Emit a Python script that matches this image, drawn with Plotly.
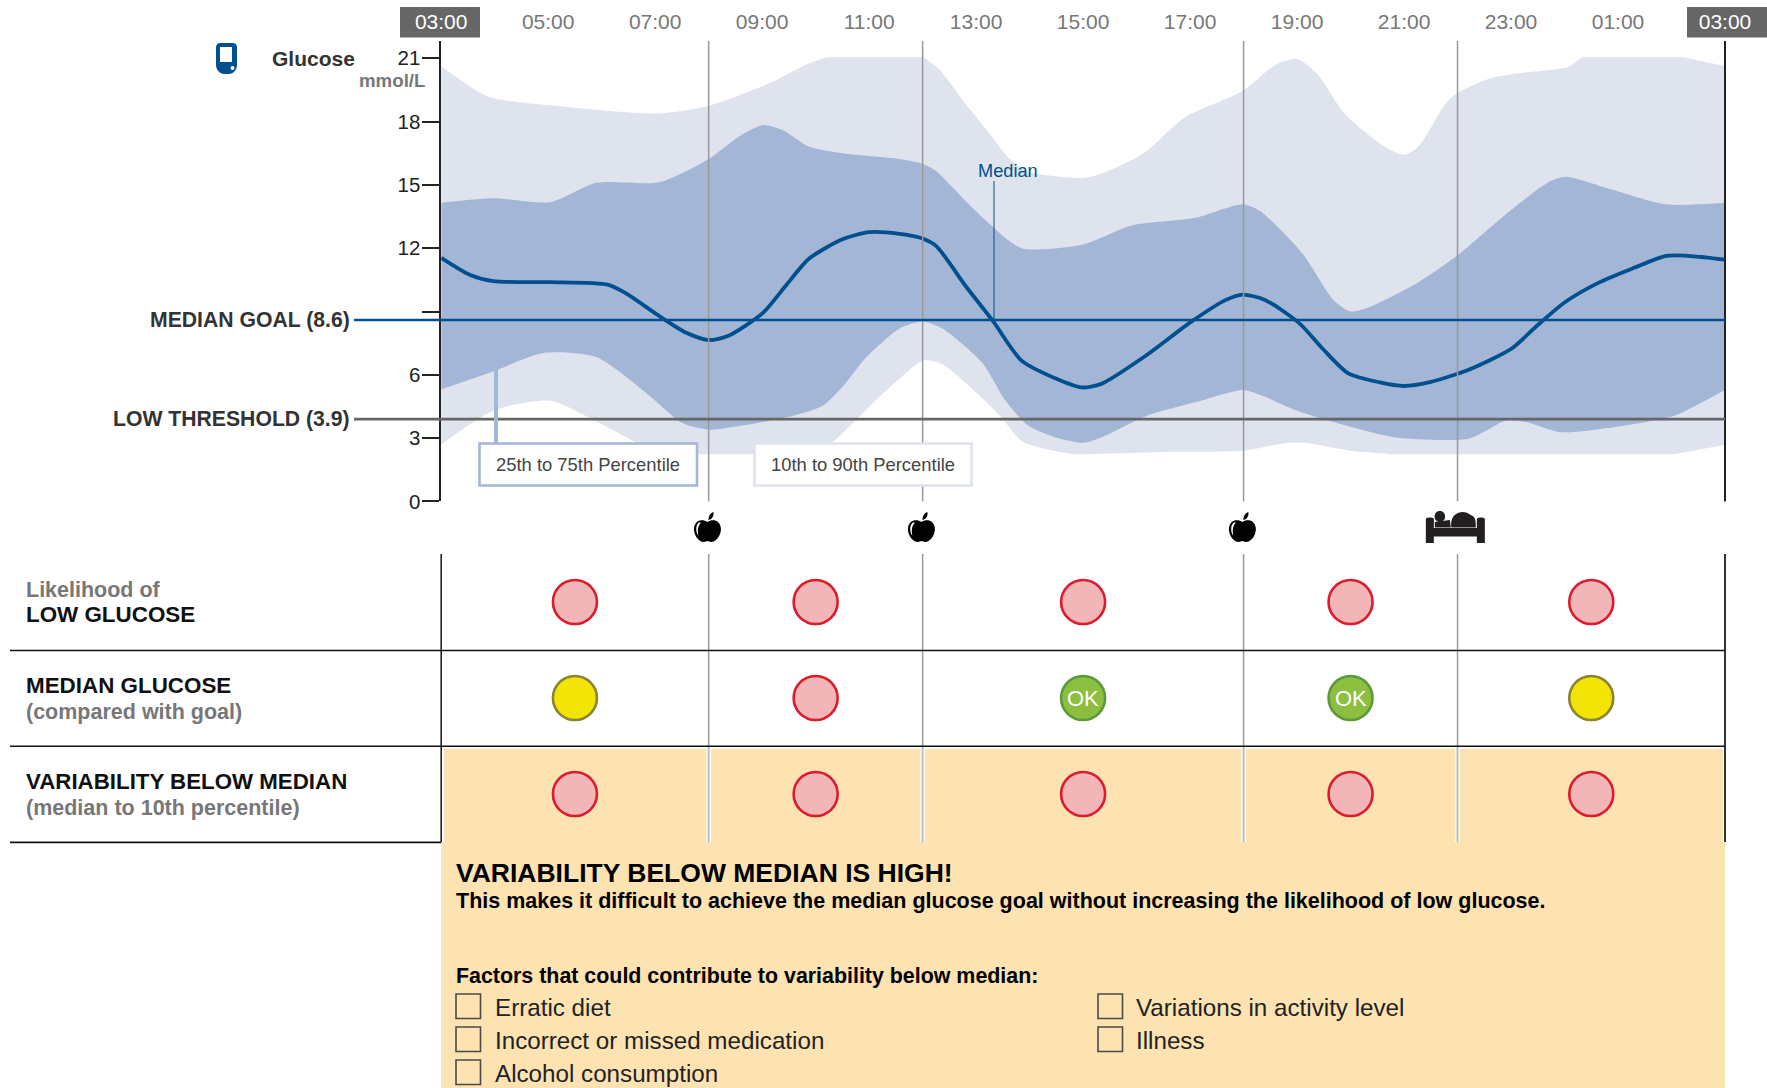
import plotly.graph_objects as go

W, H = 1767, 1088
FONT = "Liberation Sans"

# ---------- data ----------
TICK_HOURS = [3, 5, 7, 9, 11, 13, 15, 17, 19, 21, 23, 25, 27]
TICK_LABELS = ["03:00", "05:00", "07:00", "09:00", "11:00", "13:00", "15:00",
               "17:00", "19:00", "21:00", "23:00", "01:00", "03:00"]
Y_TICKS = [0, 3, 6, 9, 12, 15, 18, 21]
Y_LABELS = ["0", "3", "6", "", "12", "15", "18", "21"]
MEDIAN_GOAL = 8.6
LOW_THRESHOLD = 3.9
EVENT_HOURS = [8, 12, 18, 22]

P90_H = [3, 3.86, 5.04, 7.03, 8, 9.12, 9.82, 10.15, 10.2, 10.3, 11.9, 12, 12.3, 12.8, 13.2, 13.6, 13.96, 14.97, 15.28, 16.13, 16.9,
         17.98, 18.6, 19, 19.36, 19.9, 20.63, 21, 21.27, 21.8, 22, 22.6, 23.18, 24.08, 24.3, 24.34, 24.4, 26.1, 26.2, 27]
P90_V = [20.63, 19.2, 18.77, 18.38, 18.75, 19.8, 20.7, 21.0, 21.05, 21.05, 21.05, 21.05, 20.5, 18.85, 17.6, 16.3, 15.64, 15.33, 15.47, 16.5, 18.2,
         19.45, 20.7, 20.97, 20.3, 18.35, 16.82, 16.43, 16.82, 18.94, 19.36, 20.04, 20.3, 20.6, 21.0, 21.05, 21.05, 21.05, 21.05, 20.63]

P75_H = [3, 3.97, 5.04, 5.9, 7.08, 8, 8.59, 9.02, 9.39, 9.87, 10.5, 11.57, 12, 12.26, 12.85, 13.2, 13.85, 15, 15.9, 17.1,
         17.98, 18.3, 19.1, 19.68, 20, 20.42, 21.27, 22, 22.86, 23.7, 24.02, 24.87, 25.88, 27]
P75_V = [14.15, 14.37, 14.18, 15.1, 15.13, 16.23, 17.33, 17.84, 17.59, 16.82, 16.5, 16.23, 16.0, 15.64, 14.12, 13.27, 12.0, 12.17, 13.07, 13.44,
         14.08, 13.77, 11.75, 9.55, 9.0, 9.29, 10.39, 11.66, 13.52, 15.13, 15.39, 14.79, 14.08, 14.15]

P50_H = [3, 3.54, 3.97, 5.04, 6.11, 6.44, 7.08, 7.56, 8, 8.37, 9.02, 9.44, 9.87, 10.5, 11, 11.57, 12, 12.26, 12.8, 13.32, 13.85,
         14.49, 14.97, 15.34, 16.18, 17.03, 17.67, 17.98, 18.4, 19.04, 19.47, 19.95, 20.53, 21, 21.48, 22.22, 23.02, 23.5,
         24.02, 24.66, 25.3, 25.88, 26.25, 27]
P50_V = [11.54, 10.73, 10.44, 10.39, 10.27, 9.88, 8.78, 8.02, 7.65, 7.85, 8.95, 10.22, 11.49, 12.42, 12.76, 12.68, 12.46, 12.09, 10.22, 8.53, 6.67,
         5.82, 5.4, 5.57, 6.92, 8.53, 9.55, 9.8, 9.55, 8.45, 7.26, 6.08, 5.65, 5.47, 5.65, 6.25, 7.26, 8.36,
         9.46, 10.39, 11.07, 11.63, 11.65, 11.46]

P25_H = [3, 3.97, 4.93, 5.9, 6.87, 7.51, 8, 8.69, 9.55, 10.14, 10.52, 10.95, 11.57, 12, 12.37, 13.11, 13.54, 13.96, 14.49, 15, 15.34,
         16.18, 17.13, 17.98, 18.3, 19, 20, 20.85, 22.22, 22.91, 23.28, 23.92, 24.98, 26.04, 26.46, 27]
P25_V = [5.31, 6.16, 7.04, 6.84, 5.06, 3.71, 3.4, 3.62, 4.05, 4.55, 5.48, 6.84, 8.2, 8.53, 8.19, 6.58, 4.81, 3.62, 3.03, 2.78, 3.03,
         4.05, 4.72, 5.28, 5.06, 4.3, 3.54, 3.03, 2.98, 3.83, 3.76, 3.28, 3.54, 4.05, 4.55, 5.28]

P10_H = [3, 3.97, 5.04, 5.9, 6.65, 7.0, 7.1, 9.8, 9.9, 10.3, 11.06, 11.57, 12, 12.37, 13.11, 13.48, 13.85, 14.28, 14.8, 14.86, 14.95, 16.71,
         17.98, 18.83, 19.15, 20, 20.7, 20.74, 20.8, 25.9, 26, 27]
P10_V = [2.69, 4.3, 4.77, 3.79, 2.78, 2.23, 2.23, 2.23, 2.23, 2.78, 4.64, 5.82, 6.67, 6.5, 4.9, 3.96, 2.86, 2.49, 2.24, 2.23, 2.23, 2.35,
         2.4, 2.78, 2.78, 2.4, 2.25, 2.23, 2.23, 2.23, 2.23, 2.69]

PERIOD_CENTRES = [5.5, 10, 15, 20, 24.5]
ROWS = ["low", "median", "variability"]
LOW_STATUS = ["high", "high", "high", "high", "high"]
MEDIAN_STATUS = ["moderate", "high", "ok", "ok", "moderate"]
VARIABILITY_STATUS = ["high", "high", "high", "high", "high"]

# ---------- styles ----------
BLUE = "#00508F"
C_IQR = "#A3B6D5"
C_OUTER = "#DFE3EE"
ORANGE = "#FDE2B2"
GREY_LINE = "#999999"
STATUS_STYLE = {"high": ("#F2B6B8", "#DC1C2E"),
                "moderate": ("#F2E404", "#8A8432"),
                "ok": ("#8CBF3F", "#5A9A3A")}

PX0, PX1 = 441.2, 1725
PY_TOP, PY_ZERO = 41, 501.4
PER_UNIT = 21.1
T_TOP, T_BOT = 554, 842
SPLINE = dict(shape="spline", smoothing=0.7)


def px(x):
    return x / W


def py(y):
    return 1 - y / H


def hx(h):
    return PX0 + (h - 3) * (PX1 - PX0) / 24


def rect(x0, y0, x1, y1, fill=None, line=None, lw=0, layer="above"):
    return dict(type="rect", xref="paper", yref="paper", x0=px(x0), x1=px(x1), y0=py(y0), y1=py(y1),
                fillcolor=fill or "rgba(0,0,0,0)", line=dict(color=line or "rgba(0,0,0,0)", width=lw), layer=layer)


def seg(x0, y0, x1, y1, color, lw, layer="above"):
    return dict(type="line", xref="paper", yref="paper", x0=px(x0), x1=px(x1), y0=py(y0), y1=py(y1),
                line=dict(color=color, width=lw), layer=layer)


def icon(cmds, ox, oy, fill, layer="above"):
    """cmds: list of (letter, [x, y, ...]) in local pixels."""
    s = []
    for c, nums in cmds:
        pts = [f"{px(ox + nums[i]):.5f},{py(oy + nums[i + 1]):.5f}" for i in range(0, len(nums), 2)]
        if c == "L":
            s.extend("L" + p for p in pts)
        else:
            s.append(c + " ".join(pts))
    s.append("Z")
    return dict(type="path", xref="paper", yref="paper", path=" ".join(s), fillcolor=fill,
                line=dict(width=0), layer=layer)


APPLE_BODY = [("M", [0, 10]), ("C", [-4, 7, -13, 7, -13.5, 17]), ("C", [-13.5, 24, -8, 30, -4, 30]),
              ("C", [-2, 30, -1, 29, 0, 29]), ("C", [1, 29, 2, 30, 4, 30]),
              ("C", [8, 30, 13.5, 24, 13.5, 17]), ("C", [13, 7, 4, 7, 0, 10])]
APPLE_LEAF = [("M", [1, 8]), ("C", [1, 4, 3, 1, 6, 0]), ("C", [6.5, 4, 5, 7, 1, 8])]
APPLE_SHINE = [("M", [-8.5, 10.5]), ("C", [-12, 13, -12, 20, -9, 24]), ("C", [-10, 19, -10, 14, -6.5, 10.5])]
BED_FRAME = [("M", [0, 8]), ("C", [0, 6, 8, 6, 8, 8]), ("L", [8, 17, 51, 17, 51, 8]), ("C", [51, 6, 59, 6, 59, 8]),
             ("L", [59, 32, 51, 32, 51, 25.5, 8, 25.5, 8, 32, 0, 32])]
BED_HEAD = [("M", [14, 0]), ("C", [21, 0, 21, 11, 14, 11]), ("C", [7, 11, 7, 0, 14, 0])]
BED_ARM = [("M", [9, 11]), ("L", [24, 9, 25, 16.5, 9, 16.5])]
BED_BODY = [("M", [25.5, 16.5]), ("C", [24, 6, 30, 1, 37, 1]), ("C", [42, 1, 44, 4, 47, 5]),
            ("C", [50, 7, 50, 12, 50, 16.5])]
PHONE = [("M", [0, 5]), ("C", [0, 1, 2, 0, 5, 0]), ("L", [16, 0]), ("C", [19, 0, 21, 1, 21, 5]), ("L", [21, 22]),
         ("C", [21, 27, 17, 31, 13, 31]), ("L", [8, 31]), ("C", [4, 31, 0, 27, 0, 22])]

fig = go.Figure()

# Bands
fig.add_trace(go.Scatter(x=P10_H, y=P10_V, mode="lines", line=dict(width=0, **SPLINE),
                         hoverinfo="skip", showlegend=False))
fig.add_trace(go.Scatter(x=P90_H, y=P90_V, mode="lines", line=dict(width=0, **SPLINE),
                         fill="tonexty", fillcolor=C_OUTER, hoverinfo="skip", showlegend=False))
fig.add_trace(go.Scatter(x=P25_H, y=P25_V, mode="lines", line=dict(width=0, **SPLINE),
                         hoverinfo="skip", showlegend=False))
fig.add_trace(go.Scatter(x=P75_H, y=P75_V, mode="lines", line=dict(width=0, **SPLINE),
                         fill="tonexty", fillcolor=C_IQR, hoverinfo="skip", showlegend=False))
fig.add_trace(go.Scatter(x=P50_H, y=P50_V, mode="lines", line=dict(color=BLUE, width=3.8, **SPLINE),
                         name="Median", showlegend=False))

# Status circles
xs = {k: [] for k in STATUS_STYLE}
ys = {k: [] for k in STATUS_STYLE}
for row, statuses in zip(ROWS, [LOW_STATUS, MEDIAN_STATUS, VARIABILITY_STATUS]):
    for h, s in zip(PERIOD_CENTRES, statuses):
        xs[s].append(h)
        ys[s].append(row)
for s, (fill, edge) in STATUS_STYLE.items():
    fig.add_trace(go.Scatter(x=xs[s], y=ys[s], xaxis="x2", yaxis="y2", mode="markers",
                             marker=dict(size=44, color=fill, line=dict(color=edge, width=2.6)),
                             showlegend=False))

shapes = []
# Header boxes
shapes.append(rect(400, 7, 480, 37.5, fill="#666666", layer="below"))
shapes.append(rect(1687, 7, 1767, 37.5, fill="#666666", layer="below"))
# Orange panel
shapes.append(rect(444, 748.7, 1723, 842, fill=ORANGE, layer="below"))
shapes.append(rect(441, 842, 1725, 1088, fill=ORANGE, layer="below"))
# Event lines (chart)
for h in EVENT_HOURS:
    x = hx(h)
    shapes.append(seg(x, PY_TOP, x, PY_ZERO, GREY_LINE, 1.5))
    shapes.append(seg(x, T_TOP, x, 748, GREY_LINE, 1.5))
    shapes.append(seg(x, 748, x, T_BOT, "#FFFFFF", 4.5))
    shapes.append(seg(x, 748, x, T_BOT, "#BBBBBB", 2))
# Right/left frame lines
shapes.append(seg(PX1, PY_TOP, PX1, PY_ZERO, "#222222", 2))
shapes.append(seg(PX0, T_TOP, PX0, T_BOT, "#222222", 1.6))
shapes.append(seg(PX1, T_TOP, PX1, T_BOT, "#333333", 2))
# Table rules
shapes.append(seg(10, 650.5, PX1, 650.5, "#111111", 1.6))
shapes.append(seg(10, 746.3, PX1, 746.3, "#111111", 1.6))
shapes.append(seg(10, 842.4, PX0, 842.4, "#111111", 1.6))
# Goal lines
y_goal = PY_ZERO - MEDIAN_GOAL * PER_UNIT
y_low = PY_ZERO - LOW_THRESHOLD * PER_UNIT
shapes.append(dict(type="line", xref="paper", yref="y", x0=px(354), x1=px(PX1), y0=MEDIAN_GOAL, y1=MEDIAN_GOAL,
                   line=dict(color=BLUE, width=2.6), layer="above"))
shapes.append(dict(type="line", xref="paper", yref="y", x0=px(354), x1=px(PX1), y0=LOW_THRESHOLD, y1=LOW_THRESHOLD,
                   line=dict(color="#666666", width=2.6), layer="above"))
# Median leader
shapes.append(seg(994, 181, 994, y_goal, BLUE, 1))
# Legend boxes
shapes.append(seg(496, 370, 496, 443, C_IQR, 4))
shapes.append(rect(479.5, 443.5, 697, 485.5, fill="white", line=C_IQR, lw=2.6))
shapes.append(rect(754.5, 443.5, 971.5, 485.5, fill="white", line=C_OUTER, lw=2.6))
# Icons
for h in EVENT_HOURS[:3]:
    cx = hx(h) - 1.2
    shapes.append(icon(APPLE_BODY, cx, 512, "#000000"))
    shapes.append(icon(APPLE_LEAF, cx, 512, "#000000"))
    shapes.append(icon(APPLE_SHINE, cx, 512, "#FFFFFF"))
bx = hx(22) - 31.7
for part in (BED_FRAME, BED_HEAD, BED_ARM, BED_BODY):
    shapes.append(icon(part, bx, 511, "#231F20"))
shapes.append(icon(PHONE, 216, 43, BLUE))
shapes.append(rect(220, 47, 232, 62, fill="white"))
shapes.append(dict(type="circle", xref="paper", yref="paper", x0=px(230.5), x1=px(234.5), y0=py(66), y1=py(70),
                   fillcolor="white", line=dict(width=0), layer="above"))
# Checkboxes
for x0, yy in [(456, 994), (456, 1027), (456, 1060), (1098, 994), (1098, 1027)]:
    shapes.append(rect(x0, yy, x0 + 24.5, yy + 24.5, line="#4A4A4A", lw=1.6))


def ann(text, x, y, size, color="#000000", anchor="left", bold=False):
    t = f"<b>{text}</b>" if bold else text
    return dict(text=t, xref="paper", yref="paper", x=px(x), y=py(y), xanchor=anchor, yanchor="middle",
                showarrow=False, font=dict(family=FONT, size=size, color=color))


DK = "#333333"
GR = "#777777"
annotations = [
    ann("Glucose", 313, 59, 21, DK, "center", True),
    ann("mmol/L", 427, 80.5, 18.7, GR, "right", True),
    ann("MEDIAN GOAL (8.6)", 352, y_goal + 0.5, 21.2, DK, "right", True),
    ann("LOW THRESHOLD (3.9)", 352, y_low, 21.2, DK, "right", True),
    ann("Median", 1007.5, 171, 18.2, BLUE, "center"),
    ann("25th to 75th Percentile", 587.5, 464.5, 18.4, "#444444", "center"),
    ann("10th to 90th Percentile", 862.5, 464.5, 18.4, "#444444", "center"),
    ann("Likelihood of", 24, 589.5, 21.5, GR, "left", True),
    ann("LOW GLUCOSE", 24, 614.5, 22.4, "#111111", "left", True),
    ann("MEDIAN GLUCOSE", 24, 685.5, 22.4, "#111111", "left", True),
    ann("(compared with goal)", 24, 711.5, 21.5, GR, "left", True),
    ann("VARIABILITY BELOW MEDIAN", 24, 781.5, 22.3, "#111111", "left", True),
    ann("(median to 10th percentile)", 24, 807.5, 21.5, GR, "left", True),
    ann("VARIABILITY BELOW MEDIAN IS HIGH!", 454, 872.5, 26.5, "#000000", "left", True),
    ann("This makes it difficult to achieve the median glucose goal without increasing the likelihood of low glucose.",
        454, 900.5, 21.5, "#000000", "left", True),
    ann("Factors that could contribute to variability below median:", 454, 975.5, 21.4, "#000000", "left", True),
    ann("Erratic diet", 493, 1007, 24.2, "#222222"),
    ann("Incorrect or missed medication", 493, 1040, 24.2, "#222222"),
    ann("Alcohol consumption", 493, 1073, 24.2, "#222222"),
    ann("Variations in activity level", 1134, 1007, 24.2, "#222222"),
    ann("Illness", 1134, 1040, 24.2, "#222222"),
]
# "OK" labels sit on their data points
for h, s in zip(PERIOD_CENTRES, MEDIAN_STATUS):
    if s == "ok":
        annotations.append(dict(text="OK", x=h, y="median", xref="x2", yref="y2", showarrow=False,
                                xanchor="center", yanchor="middle", font=dict(family=FONT, size=22, color="white")))

tick_text = [f'<span style="color:#FFFFFF">{t}</span>' if i in (0, len(TICK_LABELS) - 1) else t
             for i, t in enumerate(TICK_LABELS)]

fig.update_layout(
    width=W, height=H, margin=dict(l=0, r=0, t=0, b=0, autoexpand=False), paper_bgcolor="white",
    plot_bgcolor="rgba(0,0,0,0)",
    showlegend=False, shapes=shapes, annotations=annotations,
    font=dict(family=FONT),
    xaxis=dict(domain=[px(PX0), px(PX1)], range=[3, 27], side="top", anchor="y", tickmode="array",
               tickvals=TICK_HOURS, ticktext=tick_text, ticks="", showgrid=False, zeroline=False, showline=False,
               tickfont=dict(family=FONT, size=21, color="#777777"), ticklabelstandoff=7),
    yaxis=dict(domain=[py(PY_ZERO), py(PY_TOP)], range=[0, (PY_ZERO - PY_TOP) / PER_UNIT], anchor="x",
               tickmode="array", tickvals=Y_TICKS, ticktext=Y_LABELS, ticks="outside", ticklen=17, tickwidth=1.5,
               tickcolor="#222222", showgrid=False, zeroline=False, showline=True, linecolor="#222222", linewidth=1.6,
               tickfont=dict(family=FONT, size=20.5, color="#222222"), ticklabelstandoff=-2),
    xaxis2=dict(domain=[px(PX0), px(PX1)], range=[3, 27], anchor="y2", visible=False),
    yaxis2=dict(domain=[py(T_BOT), py(T_TOP)], type="category", categoryorder="array", categoryarray=ROWS[::-1],
                range=[-0.5, 2.5], anchor="x2", visible=False),
)

fig.write_html("out.html", config={"displayModeBar": False}, post_script="document.body.style.margin='0';")
